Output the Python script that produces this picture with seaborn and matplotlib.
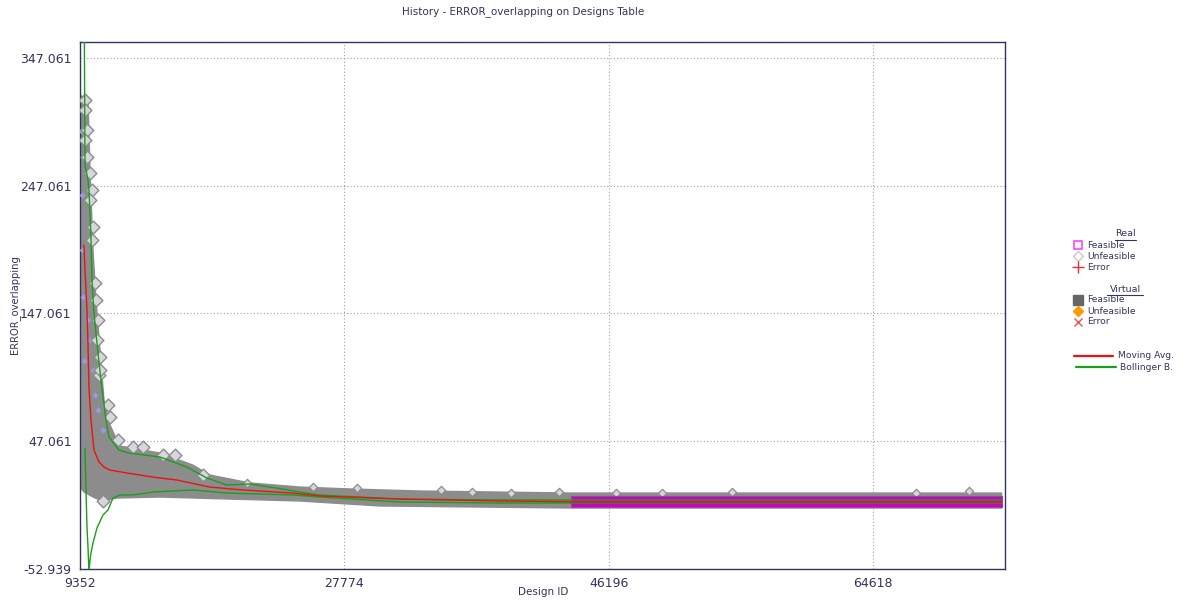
import numpy as np
import pandas as pd
import matplotlib
matplotlib.use("Agg")
import matplotlib.pyplot as plt
import seaborn as sns
from matplotlib.lines import Line2D

# ---- data ----
# envelope of the dense cloud of unfeasible designs
cloud_top_id = [9352, 9909, 10048, 10257, 10466, 10744, 11022, 11440, 11858, 12136,
                14920, 17217, 18400, 21184, 24664, 28144, 33016, 43595, 73593]
cloud_top_val = [317.9, 314.1, 259.3, 196.7, 157.5, 118.4, 79.3, 59.7, 49.6, 43.3,
                 37.8, 28.4, 20.6, 14.4, 11.2, 9.7, 8.1, 6.5, 6.5]
cloud_bot_id = [9352, 9630, 10396, 10953, 11927, 14920, 19792, 24664, 30232, 43595, 73593]
cloud_bot_val = [11.2, 7.3, 2.6, 0.3, 2.6, 3.4, 1.8, 0.3, -3.6, -5.2, -5.2]

# band of feasible designs
feas_id = [43595, 73593]
feas_top = [4.2, 4.2]
feas_bot = [-4.4, -4.4]

# isolated unfeasible designs at the edge of the cloud
edge_id = [9700, 9700, 9839, 9700, 9839, 10048, 10187, 10048, 10257, 10187, 10396, 10466,
           10605, 10535, 10674, 10744, 10744, 11301, 11440, 11997, 13041, 13737, 15129,
           15964, 17913, 20975, 25569, 28631, 34547, 36705, 39419, 42760, 46727, 49929,
           54801, 67607, 71296, 10953]
edge_val = [314.1, 306.2, 290.6, 282.8, 269.5, 256.9, 243.6, 235.8, 214.7, 204.5, 170.9,
            157.5, 141.9, 126.2, 98.9, 112.9, 102.8, 75.4, 66.0, 48.0, 42.5, 42.5, 36.3,
            36.3, 20.6, 14.4, 11.2, 10.4, 8.9, 7.3, 6.5, 7.3, 6.5, 6.5, 7.3, 6.5, 8.1,
            0.3]

# real designs drawn in lavender inside the early cloud
lav_id = [9422, 9491, 9491, 9909, 10048, 10257, 10396, 10605, 10953, 9560, 9630]
lav_val = [290.0, 240.0, 196.7, 141.9, 126.2, 102.8, 83.2, 71.5, 55.8, 160.0, 110.0]

# moving average
ma_id = [9630, 9700, 9839, 9909, 9978, 10118, 10326, 10674, 11022, 11440, 12623, 14433,
         16103, 18400, 20697, 24177, 26056, 31624, 38584, 45544, 73593]
ma_val = [200.6, 181.0, 149.8, 122.3, 89.5, 63.7, 40.2, 30.8, 26.9, 24.5, 22.2, 19.0,
          16.7, 11.2, 8.9, 6.5, 4.2, 1.8, 0.3, -0.5, -0.5]

# Bollinger bands
bb_up_id = [9630, 9700, 9770, 9909, 9978, 10118, 10187, 10326, 10605, 10814, 11162, 11370,
            12066, 12762, 14920, 16799, 18191, 19583, 21184, 23063, 24664, 26056, 31624,
            38584, 73593]
bb_up_val = [420.0, 262.0, 259.3, 251.5, 243.6, 206.8, 173.2, 147.4, 116.1, 94.9, 63.7,
             50.4, 40.2, 37.8, 34.7, 26.9, 18.3, 12.8, 13.6, 10.4, 7.3, 5.0, 1.8, 1.1, 1.1]
bb_lo_id = [9700, 9770, 9839, 9909, 9978, 10048, 10118, 10257, 10535, 10953, 11301, 11649,
            12136, 13041, 14433, 17217, 19583, 24177, 26056, 31624, 38584, 73593]
bb_lo_val = [41.7, 8.9, -20.1, -35.7, -56.0, -45.9, -40.4, -32.6, -20.8, -10.7, -6.8, 2.6,
             5.0, 5.0, 7.3, 8.9, 6.5, 5.0, 3.4, -0.5, -1.3, -1.3]

x_ticks = [9352, 27774, 46196, 64618]
y_ticks = [-52.939, 47.061, 147.061, 247.061, 347.061]

navy = "#33335f"

sns.set_style("white")
plt.rcParams["font.family"] = ["DejaVu Sans"]

W, H = 1185, 600
fig = plt.figure(figsize=(W / 100, H / 100), dpi=100)
ax = fig.add_axes([80 / W, 31 / H, 925 / W, 527 / H])

# cloud of unfeasible designs
ax.fill(cloud_top_id + cloud_bot_id[::-1], cloud_top_val + cloud_bot_val[::-1],
        facecolor="#8c8c8c", edgecolor="#8c8c8c", lw=1, zorder=2)
sns.scatterplot(x=lav_id, y=lav_val, marker="D", s=8, color="#9a9ae0",
                edgecolor="#9a9ae0", ax=ax, zorder=3)

edges = pd.DataFrame({"id": edge_id, "val": edge_val})
early = edges[edges["id"] < 20000]
late = edges[edges["id"] >= 20000]
sns.scatterplot(data=early, x="id", y="val", marker="D", s=42, facecolor="#d6d6dc",
                edgecolor="#8c8c8c", linewidth=1, ax=ax, zorder=3)
sns.scatterplot(data=late, x="id", y="val", marker="D", s=18, facecolor="#d6d6dc",
                edgecolor="#8c8c8c", linewidth=0.9, ax=ax, zorder=3)

# feasible designs
ax.fill_between(feas_id, feas_bot, feas_top, facecolor="#c800c8",
                edgecolor="#a040a0", lw=0.8, zorder=4)

ma = pd.DataFrame({"id": ma_id, "val": ma_val})
up = pd.DataFrame({"id": bb_up_id, "val": bb_up_val})
lo = pd.DataFrame({"id": bb_lo_id, "val": bb_lo_val})
sns.lineplot(data=ma, x="id", y="val", color="#ee1111", lw=1.0, sort=False,
             estimator=None, ax=ax, zorder=6)
for d in (up, lo):
    sns.lineplot(data=d, x="id", y="val", color="#18a018", lw=1.0, sort=False,
                 estimator=None, ax=ax, zorder=5)

ax.set_xlim(9352, 73829)
ax.set_ylim(-52.939, 359.5)
ax.set_xticks(x_ticks)
ax.set_xticklabels([str(t) for t in x_ticks])
ax.set_yticks(y_ticks)
ax.set_yticklabels([f"{t:.3f}" for t in y_ticks])
ax.set_xticks([18563, 36985, 55407, 73829], minor=True)
ax.set_yticks([-2.939, 97.061, 197.061, 297.061], minor=True)
ax.grid(True, which="major", linestyle=(0, (1, 2)), color="#9c9cc8", lw=0.8, zorder=0)
ax.set_axisbelow(True)
ax.tick_params(which="both", direction="out", color=navy, labelcolor=navy,
               labelsize=9, length=4, width=1, pad=2)
ax.tick_params(which="minor", length=3)
for s in ax.spines.values():
    s.set_visible(True)
    s.set_color(navy)
    s.set_linewidth(1)

ax.set_xlabel("")
ax.set_ylabel("")
fig.text(543 / W, 1 - 592 / H, "Design ID", ha="center", va="center",
         fontsize=7.5, color=navy)
fig.text(15 / W, 1 - 305 / H, "ERROR_overlapping", ha="center", va="center",
         rotation=90, fontsize=7.2, color=navy)
fig.text(523 / W, 1 - 12 / H, "History - ERROR_overlapping on Designs Table",
         ha="center", va="center", fontsize=7.5, color=navy)


# ---- legend drawn by hand ----
def fx(px):
    return px / W


def fy(py):
    return 1 - py / H


def glyph(px, py, **kw):
    fig.add_artist(Line2D([fx(px)], [fy(py)], transform=fig.transFigure, ls="none", **kw))


def label(px, py, s):
    fig.text(fx(px), fy(py), s, ha="left", va="center", fontsize=6.6, color=navy)


for title, px, py, x0, x1 in [("Real", 1125, 234, 1115, 1136), ("Virtual", 1125, 289, 1107, 1143)]:
    fig.text(fx(px), fy(py), title, ha="center", va="center", fontsize=6.8, color=navy)
    fig.add_artist(Line2D([fx(x0), fx(x1)], [fy(py + 6)] * 2, transform=fig.transFigure,
                          color=navy, lw=0.8))

glyph(1078, 245, marker="s", ms=6, mfc="none", mec="#ff33ff", mew=1.1)
label(1087, 245, "Feasible")
glyph(1078, 256, marker="D", ms=5, mfc="none", mec="#c8c8c8", mew=1)
label(1087, 256, "Unfeasible")
glyph(1078, 267, marker="+", ms=8, mec="#e83030", mew=1)
label(1087, 267, "Error")
glyph(1078, 300, marker="s", ms=6.5, mfc="#666666", mec="#666666")
label(1087, 300, "Feasible")
glyph(1078, 311, marker="D", ms=5, mfc="#ff9900", mec="#ff9900")
label(1087, 311, "Unfeasible")
glyph(1078, 322, marker="x", ms=6, mec="#f05050", mew=1)
label(1087, 322, "Error")

fig.add_artist(Line2D([fx(1074), fx(1113)], [fy(356)] * 2, transform=fig.transFigure,
                      color="#ee1111", lw=1.6))
label(1118, 356, "Moving Avg.")
fig.add_artist(Line2D([fx(1076), fx(1116)], [fy(367)] * 2, transform=fig.transFigure,
                      color="#18a018", lw=1.6))
label(1120, 367, "Bollinger B.")

fig.savefig("out.png", dpi=100)
